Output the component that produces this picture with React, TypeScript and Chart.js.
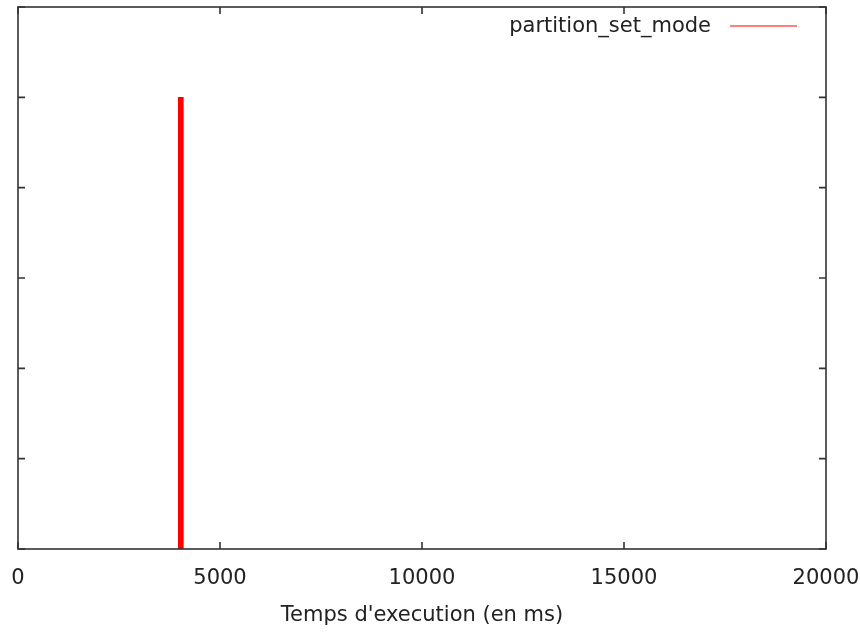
import React, { useEffect, useRef } from "react";
import { Chart, registerables } from "chart.js";

Chart.register(...registerables);

const SERIES_LABEL = "partition_set_mode";
const EXEC_TIMES = [4030];
const VALUES = [1];
const X_TICKS = [0, 5000, 10000, 15000, 20000];
const Y_TICKS = [0, 0.2, 0.4, 0.6, 0.8, 1.0, 1.2];
const X_TITLE = "Temps d'execution (en ms)";
const FONT = '"DejaVu Sans", sans-serif';

const framePlugin = {
  id: "gnuFrame",
  afterDatasetsDraw(chart: any) {
    const { ctx, chartArea: a, scales } = chart;
    ctx.save();
    ctx.strokeStyle = "#333333";
    ctx.lineWidth = 1.6;
    ctx.strokeRect(a.left, a.top, a.right - a.left, a.bottom - a.top);
    const L = 7;
    ctx.beginPath();
    X_TICKS.forEach((v) => {
      const x = scales.x.getPixelForValue(v);
      ctx.moveTo(x, a.bottom);
      ctx.lineTo(x, a.bottom - L);
      ctx.moveTo(x, a.top);
      ctx.lineTo(x, a.top + L);
    });
    Y_TICKS.forEach((v) => {
      const y = scales.y.getPixelForValue(v);
      ctx.moveTo(a.left, y);
      ctx.lineTo(a.left + L, y);
      ctx.moveTo(a.right, y);
      ctx.lineTo(a.right - L, y);
    });
    ctx.stroke();

    // gnuplot-style key: text then line sample
    const ds = chart.data.datasets[0];
    ctx.font = "21px " + FONT;
    ctx.fillStyle = "#222222";
    ctx.textAlign = "right";
    ctx.textBaseline = "middle";
    const ky = a.top + 19;
    ctx.fillText(ds.label, a.right - 115, ky + 1);
    ctx.beginPath();
    ctx.strokeStyle = ds.backgroundColor;
    ctx.lineWidth = 1.2;
    ctx.moveTo(a.right - 96, ky);
    ctx.lineTo(a.right - 29, ky);
    ctx.stroke();
    ctx.restore();
  },
};

export default function App() {
  const ref = useRef<HTMLCanvasElement | null>(null);

  useEffect(() => {
    document.body.style.margin = "0";
    const canvas = ref.current;
    if (!canvas) return;
    const chart = new Chart(canvas, {
      type: "bar",
      data: {
        datasets: [
          {
            label: SERIES_LABEL,
            data: EXEC_TIMES.map((x, i) => ({ x, y: VALUES[i] })),
            backgroundColor: "#ff0000",
            borderWidth: 0,
            barThickness: 5,
          },
        ],
      },
      plugins: [framePlugin],
      options: {
        animation: false,
        responsive: true,
        maintainAspectRatio: false,
        layout: { padding: { left: 18, right: 34, top: 7, bottom: 0 } },
        plugins: {
          legend: { display: false },
          tooltip: { enabled: false },
        },
        scales: {
          x: {
            type: "linear",
            offset: false,
            min: 0,
            max: 20000,
            afterBuildTicks: (s: any) => {
              s.ticks = X_TICKS.map((v) => ({ value: v }));
            },
            afterFit: (s: any) => {
              s.height = 84;
              s.paddingLeft = 0;
              s.paddingRight = 0;
            },
            grid: { display: false, drawTicks: false },
            border: { display: false },
            ticks: {
              padding: 17,
              maxRotation: 0,
              autoSkip: false,
              color: "#222222",
              font: { family: FONT, size: 21 },
              callback: (v: any) => String(v),
            },
            title: {
              display: true,
              text: X_TITLE,
              color: "#222222",
              font: { family: FONT, size: 21 },
              padding: { top: 0, bottom: 5 },
            },
          },
          y: {
            type: "linear",
            display: false,
            min: 0,
            max: 1.2,
          },
        },
      },
    });
    return () => chart.destroy();
  }, []);

  return (
    <div style={{ width: 860, height: 633, position: "relative" }}>
      <canvas ref={ref} />
    </div>
  );
}
